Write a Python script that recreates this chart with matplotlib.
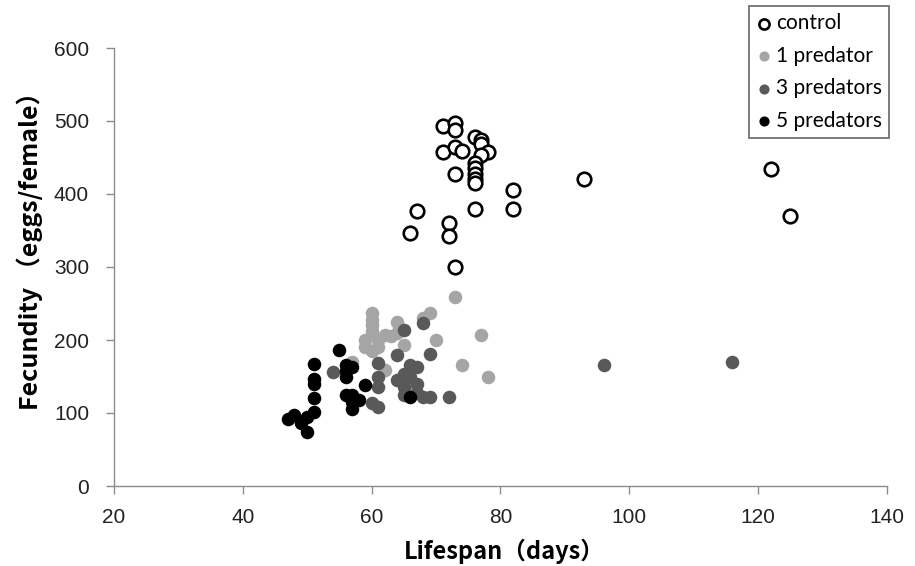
import matplotlib
matplotlib.use("Agg")
import matplotlib.pyplot as plt
from matplotlib import font_manager

# ---- data ----
control_x = [71, 73, 73, 76, 77, 77, 71, 73, 74, 78, 77, 76, 76, 76, 76, 76, 73, 82, 76, 82, 67, 66, 72, 72, 73, 93, 122, 125]
control_y = [493, 497, 487, 478, 474, 469, 458, 465, 459, 457, 453, 442, 435, 427, 421, 415, 427, 405, 379, 380, 377, 346, 360, 343, 300, 421, 434, 370]

pred1_x = [73, 60, 60, 60, 60, 69, 68, 64, 62, 77, 70, 65, 74, 78, 64, 62, 59, 61, 59, 57, 63, 61, 66, 60]
pred1_y = [259, 237, 228, 220, 212, 237, 230, 225, 207, 207, 200, 193, 166, 150, 209, 159, 191, 191, 200, 170, 205, 200, 130, 185]

pred3_x = [65, 68, 69, 64, 61, 66, 67, 65, 61, 64, 67, 65, 61, 69, 72, 68, 60, 61, 54, 96, 116, 65, 66, 67]
pred3_y = [214, 223, 181, 179, 168, 166, 163, 154, 150, 145, 140, 136, 136, 122, 122, 122, 114, 108, 156, 166, 170, 125, 150, 128]

pred5_x = [55, 51, 51, 51, 51, 50, 47, 48, 49, 50, 56, 57, 56, 59, 56, 57, 57, 57, 58, 66, 51, 56]
pred5_y = [186, 167, 147, 120, 102, 95, 92, 97, 86, 74, 166, 163, 150, 138, 125, 125, 115, 106, 118, 122, 140, 158]

x_ticks = [20, 40, 60, 80, 100, 120, 140]
y_ticks = [0, 100, 200, 300, 400, 500, 600]

# ---- fonts ----
avail = {f.name for f in font_manager.fontManager.ttflist}
if "Liberation Sans Narrow" in avail:
    tick_family = ["Liberation Sans Narrow"]
else:
    tick_family = ["Liberation Sans"]
label_family = ["Noto Sans CJK SC", "DejaVu Sans"]
legend_family = ["Lato", "DejaVu Sans"]

fig = plt.figure(figsize=(9.15, 5.66), dpi=100)
ax = fig.add_axes([114/915, 1-486/566, (887-114)/915, (486-48)/566])

ms = 95
ax.scatter(control_x, control_y, s=ms, facecolors="white", edgecolors="black", linewidths=1.9, label="control", zorder=3)
ax.scatter(pred1_x, pred1_y, s=ms, color="#a5a5a5", linewidths=0, label="1 predator", zorder=3)
ax.scatter(pred3_x, pred3_y, s=ms, color="#595959", linewidths=0, label="3 predators", zorder=3)
ax.scatter(pred5_x, pred5_y, s=ms, color="black", linewidths=0, label="5 predators", zorder=3)

ax.set_xlim(20, 140)
ax.set_ylim(0, 600)
ax.set_xticks(x_ticks)
ax.set_yticks(y_ticks)
for s in ["top", "right"]:
    ax.spines[s].set_visible(False)
for s in ["left", "bottom"]:
    ax.spines[s].set_color("#8c8c8c")
    ax.spines[s].set_linewidth(1.0)
ax.tick_params(axis="both", colors="#8c8c8c", length=6, width=1.0, labelcolor="#222222")
ax.tick_params(axis="x", pad=10)
ax.tick_params(axis="y", pad=12)
for lab in ax.get_xticklabels() + ax.get_yticklabels():
    lab.set_family(tick_family)
    lab.set_fontsize(15)

ax.set_xlabel("Lifespan（days）", family=label_family, fontweight="bold", fontsize=17, va="center")
ax.xaxis.set_label_coords(0.505, (486 - 551) / 438)
ax.set_ylabel("Fecundity （eggs/female）", family=label_family, fontweight="bold", fontsize=18, va="center")
ax.yaxis.set_label_coords((30 - 114) / 773, 0.55)

leg = fig.legend(loc="upper right", bbox_to_anchor=(889/915, 1-6/566), frameon=True, fancybox=False,
                 edgecolor="#404040", prop={"family": legend_family, "size": 15},
                 handletextpad=0.15, handlelength=0.8, labelspacing=0.6, borderpad=0.35, markerscale=0.75,
                 borderaxespad=0)
leg.get_frame().set_linewidth(1.2)

fig.savefig("out.png", dpi=100, facecolor="white")
